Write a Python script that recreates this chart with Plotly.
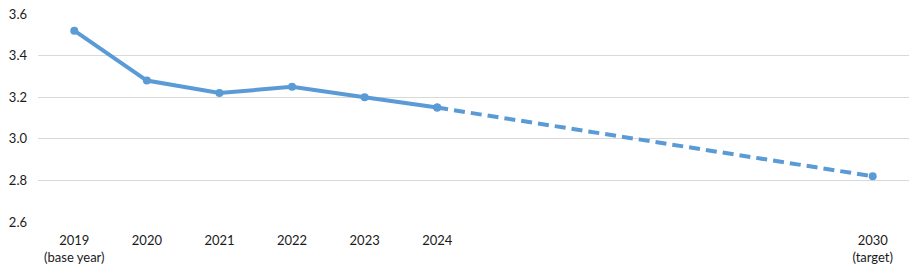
import plotly.graph_objects as go

years_actual = [2019, 2020, 2021, 2022, 2023, 2024]
values_actual = [3.52, 3.28, 3.22, 3.25, 3.20, 3.15]
years_target = [2024, 2030]
values_target = [3.15, 2.82]
tick_years = [2019, 2020, 2021, 2022, 2023, 2024, 2030]
tick_labels = ["2019<br>(base year)", "2020", "2021", "2022", "2023", "2024", "2030<br>(target)"]
y_ticks = [2.6, 2.8, 3.0, 3.2, 3.4, 3.6]

color = "#5B9BD5"
fig = go.Figure()
fig.add_trace(go.Scatter(
    x=years_actual, y=values_actual, mode="lines+markers",
    line=dict(color=color, width=4),
    marker=dict(color=color, size=8, symbol="circle"),
    cliponaxis=False, showlegend=False))
fig.add_trace(go.Scatter(
    x=years_target, y=values_target, mode="lines+markers",
    line=dict(color=color, width=4, dash="11px,6px"),
    marker=dict(color=color, size=8, symbol="circle"),
    cliponaxis=False, showlegend=False))

fig.update_layout(
    width=912, height=268,
    margin=dict(l=38, r=3, t=14, b=46),
    paper_bgcolor="white", plot_bgcolor="white",
    font=dict(family="Lato, Open Sans, sans-serif", size=13, color="#1a1a1a"),
    xaxis=dict(range=[2018.5, 2030.5], tickmode="array", tickvals=tick_years,
               ticktext=tick_labels, showgrid=False, zeroline=False,
               showline=False, ticks="", ticklabelstandoff=9),
    yaxis=dict(range=[2.6, 3.6], tickmode="array", tickvals=y_ticks,
               ticktext=[f"{v:.1f}" for v in y_ticks],
               showgrid=True, gridcolor="#D9D9D9", gridwidth=1,
               zeroline=False, showline=False, ticks="", ticklabelstandoff=10),
)
fig.write_html("out.html")
